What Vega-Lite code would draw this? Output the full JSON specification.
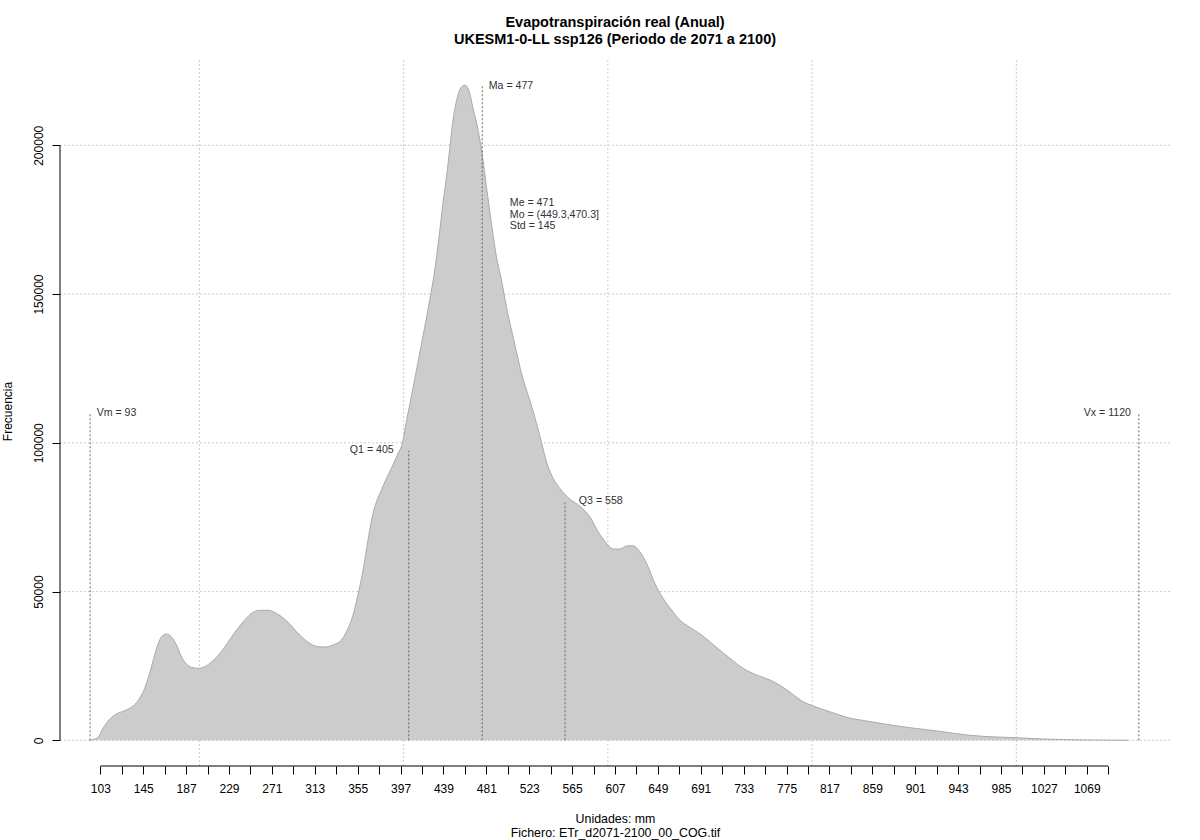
{"$schema":"https://vega.github.io/schema/vega-lite/v6.json","width":1110,"height":706,"autosize":{"type":"none"},"padding":{"left":60,"top":60,"right":30,"bottom":74},"background":"white","config":{"view":{"stroke":null},"font":"Liberation Sans"},"title":{"text":["Evapotranspiración real (Anual)","UKESM1-0-LL ssp126 (Periodo de 2071 a 2100)"],"font":"Liberation Sans","fontSize":14.5,"fontWeight":"bold","color":"#000000","anchor":"middle","lineHeight":17,"offset":12},"resolve":{"axis":{"x":"independent","y":"independent"}},"datasets":{"curve":[{"v":93,"f":0},{"v":100.7,"f":1008},{"v":105.6,"f":4033},{"v":112.1,"f":7058},{"v":118.7,"f":8840},{"v":126.8,"f":9949},{"v":135,"f":11528},{"v":141.5,"f":14116},{"v":146.4,"f":17477},{"v":151.3,"f":22519},{"v":156.2,"f":28669},{"v":161.1,"f":33711},{"v":164.3,"f":35290},{"v":167.7,"f":35727},{"v":172.6,"f":34820},{"v":177.5,"f":32030},{"v":182.4,"f":28098},{"v":187.3,"f":25644},{"v":193.7,"f":24401},{"v":198.6,"f":24199},{"v":205.2,"f":24737},{"v":213.3,"f":26754},{"v":221.5,"f":29778},{"v":232.9,"f":35391},{"v":244.4,"f":40433},{"v":252.5,"f":43021},{"v":259.1,"f":43693},{"v":267.2,"f":43693},{"v":275.4,"f":42685},{"v":285.2,"f":40197},{"v":298.3,"f":35391},{"v":308,"f":32602},{"v":316.2,"f":31459},{"v":322.7,"f":31358},{"v":330.9,"f":32030},{"v":339.1,"f":33711},{"v":344,"f":36500},{"v":348.9,"f":40433},{"v":353.8,"f":46584},{"v":357,"f":51625},{"v":360.3,"f":57238},{"v":363.6,"f":63960},{"v":366.8,"f":70682},{"v":370.1,"f":76295},{"v":373.4,"f":80193},{"v":378.3,"f":84127},{"v":383.2,"f":88058},{"v":389.6,"f":92528},{"v":394.5,"f":96461},{"v":398.2,"f":99150},{"v":402.8,"f":107317},{"v":409.2,"f":118408},{"v":415.8,"f":130172},{"v":420.7,"f":139011},{"v":425.6,"f":147985},{"v":430.5,"f":158068},{"v":434.7,"f":169260},{"v":438.6,"f":180704},{"v":442,"f":189428},{"v":445.2,"f":198970},{"v":448.4,"f":208483},{"v":452.4,"f":215775},{"v":455.7,"f":219137},{"v":459.9,"f":220246},{"v":463.8,"f":218566},{"v":468,"f":212415},{"v":472.9,"f":205122},{"v":476.8,"f":197292},{"v":481.1,"f":186065},{"v":486,"f":173760},{"v":490.9,"f":162538},{"v":495.8,"f":154707},{"v":500.7,"f":145733},{"v":505.6,"f":137902},{"v":510.5,"f":130608},{"v":515.4,"f":123349},{"v":520.3,"f":117735},{"v":523.5,"f":114375},{"v":530.1,"f":106544},{"v":535,"f":100158},{"v":539.9,"f":93637},{"v":546.4,"f":88058},{"v":552.9,"f":84697},{"v":562.7,"f":81101},{"v":572.5,"f":78748},{"v":582.3,"f":75152},{"v":590.5,"f":70110},{"v":598.7,"f":66212},{"v":605.2,"f":64295},{"v":611.7,"f":64295},{"v":618.3,"f":65304},{"v":624.8,"f":65405},{"v":631.3,"f":63389},{"v":637.9,"f":59490},{"v":646,"f":52768},{"v":654.1,"f":47726},{"v":662.4,"f":43794},{"v":670.5,"f":40433},{"v":680.3,"f":37979},{"v":691.8,"f":35391},{"v":704.8,"f":31694},{"v":719.5,"f":27560},{"v":732.5,"f":24199},{"v":745.7,"f":21947},{"v":758.7,"f":20267},{"v":768.5,"f":18486},{"v":779.9,"f":15797},{"v":791.3,"f":12974},{"v":801.1,"f":11528},{"v":817.4,"f":9612},{"v":833.8,"f":7730},{"v":853.4,"f":6487},{"v":873,"f":5378},{"v":892.6,"f":4369},{"v":912.2,"f":3563},{"v":925.2,"f":3025},{"v":951.4,"f":1781},{"v":980.7,"f":1109},{"v":1000.3,"f":874},{"v":1026.4,"f":437},{"v":1075.4,"f":100},{"v":1109.4,"f":0}]},"layer":[{"data":{"values":[{"g":200},{"g":400},{"g":600},{"g":800},{"g":1000}]},"mark":{"type":"rule","color":"#cccccc","strokeDash":[2,2],"strokeWidth":1},"encoding":{"x":{"field":"g","type":"quantitative","axis":null}}},{"data":{"values":[{"h":0},{"h":50000},{"h":100000},{"h":150000},{"h":200000}]},"mark":{"type":"rule","color":"#cccccc","strokeDash":[2,2],"strokeWidth":1},"encoding":{"y":{"field":"h","type":"quantitative","axis":null}}},{"data":{"name":"curve"},"mark":{"type":"area","color":"#cccccc","opacity":1,"interpolate":"monotone"},"encoding":{"x":{"field":"v","type":"quantitative","scale":{"domain":[63.5,1150.5],"nice":false,"zero":false},"axis":{"values":[103,124,145,166,187,208,229,250,271,292,313,334,355,376,397,418,439,460,481,502,523,544,565,586,607,628,649,670,691,712,733,754,775,796,817,838,859,880,901,922,943,964,985,1006,1027,1048,1069,1090],"labelExpr":"(datum.value-103)%42==0 ? datum.label : ''","format":"d","grid":false,"domain":false,"tickColor":"#000000","tickSize":8,"tickWidth":1,"labelColor":"#000000","labelFont":"Liberation Sans","labelFontSize":12,"labelAngle":0,"labelPadding":9,"labelOverlap":false,"labelFlush":false,"title":["Unidades: mm","Fichero: ETr_d2071-2100_00_COG.tif"],"titleFont":"Liberation Sans","titleFontSize":12.4,"titleFontWeight":"normal","titleColor":"#000000","titleLineHeight":14,"titlePadding":18}},"y":{"field":"f","type":"quantitative","scale":{"domain":[-8639,228672],"nice":false,"zero":false},"axis":{"values":[0,50000,100000,150000,200000],"format":"d","grid":false,"domain":false,"tickColor":"#000000","tickSize":8,"tickWidth":1,"labelColor":"#000000","labelFont":"Liberation Sans","labelFontSize":12,"labelAngle":-90,"labelAlign":"center","labelBaseline":"bottom","labelPadding":7,"labelOverlap":false,"title":"Frecuencia","titleFont":"Liberation Sans","titleFontSize":12,"titleFontWeight":"normal","titleColor":"#000000","titlePadding":18,"titleY":351}}}},{"data":{"name":"curve"},"mark":{"type":"line","color":"#aaaaaa","strokeWidth":1,"opacity":1,"interpolate":"monotone"},"encoding":{"x":{"field":"v","type":"quantitative","axis":null},"y":{"field":"f","type":"quantitative","axis":null}}},{"data":{"values":[{"s":"Vm","v":93,"b":0,"f":110000},{"s":"Q1","v":405,"b":0,"f":97300},{"s":"Ma","v":477,"b":0,"f":220000},{"s":"Q3","v":558,"b":0,"f":79900},{"s":"Vx","v":1120,"b":0,"f":110000}]},"mark":{"type":"rule","color":"#666666","strokeDash":[2,2],"strokeWidth":1},"encoding":{"x":{"field":"v","type":"quantitative","axis":null},"y":{"field":"b","type":"quantitative","axis":null},"y2":{"field":"f"}}},{"data":{"values":[{"a":103,"b":1090,"c":-8639}]},"mark":{"type":"rule","color":"#000000","strokeWidth":1},"encoding":{"x":{"field":"a","type":"quantitative","axis":null},"x2":{"field":"b"},"y":{"field":"c","type":"quantitative","axis":null}}},{"data":{"values":[{"a":63.5,"b":0,"c":200000}]},"mark":{"type":"rule","color":"#000000","strokeWidth":1},"encoding":{"x":{"field":"a","type":"quantitative","axis":null},"y":{"field":"b","type":"quantitative","axis":null},"y2":{"field":"c"}}},{"data":{"values":[{"t":"Vm = 93","v":99.4,"f":110180},{"t":"Ma = 477","v":483.4,"f":220000},{"t":"Q3 = 558","v":571.6,"f":80600},{"t":"Me = 471","v":504,"f":180586},{"t":"Mo = (449.3,470.3]","v":504,"f":176720},{"t":"Std = 145","v":504,"f":172855}]},"mark":{"type":"text","align":"left","baseline":"middle","font":"Liberation Sans","fontSize":10.6,"color":"#333333"},"encoding":{"x":{"field":"v","type":"quantitative","axis":null},"y":{"field":"f","type":"quantitative","axis":null},"text":{"field":"t","type":"nominal"}}},{"data":{"values":[{"t":"Q1 = 405","v":390.3,"f":97560},{"t":"Vx = 1120","v":1112.3,"f":110180}]},"mark":{"type":"text","align":"right","baseline":"middle","font":"Liberation Sans","fontSize":10.6,"color":"#333333"},"encoding":{"x":{"field":"v","type":"quantitative","axis":null},"y":{"field":"f","type":"quantitative","axis":null},"text":{"field":"t","type":"nominal"}}}]}
